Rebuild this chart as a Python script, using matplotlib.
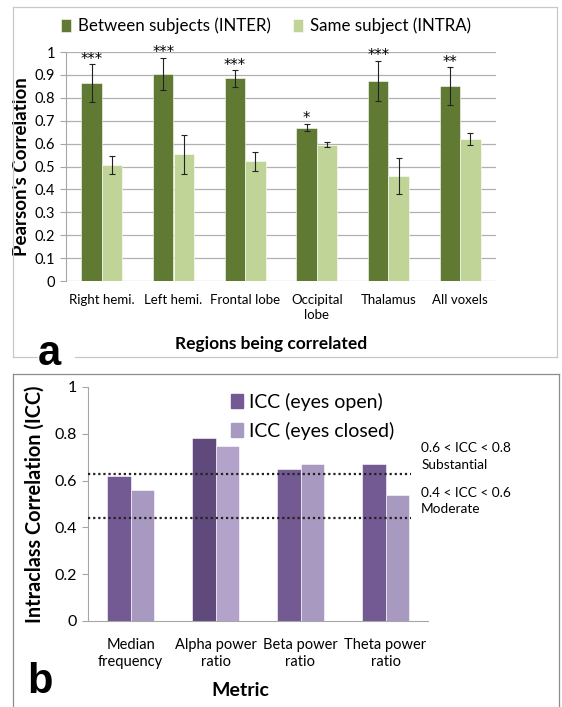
import numpy as np
import matplotlib
matplotlib.use('Agg')
import matplotlib.pyplot as plt
from matplotlib.lines import Line2D

plt.rcParams['font.family'] = ['Lato', 'DejaVu Sans']

# panel a data
regions = ['Right hemi.', 'Left hemi.', 'Frontal lobe', 'Occipital\nlobe', 'Thalamus', 'All voxels']
inter = [0.865, 0.905, 0.885, 0.670, 0.875, 0.850]
inter_err = [0.082, 0.070, 0.037, 0.017, 0.087, 0.083]
intra = [0.507, 0.553, 0.523, 0.595, 0.458, 0.621]
intra_err = [0.038, 0.086, 0.041, 0.011, 0.080, 0.025]
stars = ['***', '***', '***', '*', '***', '**']

# panel b data
metrics = ['Median\nfrequency', 'Alpha power\nratio', 'Beta power\nratio', 'Theta power\nratio']
icc_open = [0.62, 0.78, 0.65, 0.67]
icc_closed = [0.56, 0.75, 0.67, 0.54]
ref_lines = [0.63, 0.44]

W, H = 562, 707
fig = plt.figure(figsize=(W / 100, H / 100), dpi=100)

def fx(px):
    return px / W

def fy(py):
    return 1 - py / H

dark_g = '#617a33'
light_g = '#c0d497'
open_c = ['#735a92', '#5f4a7b', '#735a92', '#735a92']
closed_c = ['#a899c1', '#b3a3cb', '#a899c1', '#a899c1']
grey = '#a6a6a6'

# ---------- panel a ----------
ax1 = fig.add_axes([fx(66), fy(281), fx(496) - fx(66), fy(52) - fy(281)])
x = np.arange(len(regions))
bw = 0.285
ax1.bar(x - bw / 2, inter, bw, color=dark_g, edgecolor='white', linewidth=0.4, zorder=3)
ax1.bar(x + bw / 2, intra, bw, color=light_g, edgecolor='white', linewidth=0.4, zorder=3)
ax1.errorbar(x - bw / 2, inter, yerr=inter_err, fmt='none', ecolor='#222222', elinewidth=0.8,
             capsize=2, capthick=0.8, zorder=4)
ax1.errorbar(x + bw / 2, intra, yerr=intra_err, fmt='none', ecolor='#222222', elinewidth=0.8,
             capsize=2, capthick=0.8, zorder=4)
for xi, v, e, s in zip(x, inter, inter_err, stars):
    ax1.text(xi - bw / 2, v + e - 0.012, s, ha='center', va='bottom', fontsize=10.5,
             family=['DejaVu Sans'])
ax1.set_xlim(-0.5, len(regions) - 0.5)
ax1.set_ylim(0, 1)
ax1.set_yticks(np.arange(0, 1.01, 0.1))
ax1.set_yticklabels(['0'] + ['%.1f' % v for v in np.arange(0.1, 0.95, 0.1)] + ['1'])
ax1.yaxis.grid(True, color='#b0b0b0', linewidth=0.9, zorder=0)
ax1.set_axisbelow(True)
for sp in ['top', 'right', 'bottom']:
    ax1.spines[sp].set_visible(False)
ax1.spines['left'].set_color(grey)
ax1.tick_params(axis='y', length=4, color=grey, labelsize=10.5, pad=4)
ax1.tick_params(axis='x', length=0, labelsize=9.5, pad=9)
ax1.set_xticks(x)
ax1.set_xticklabels(regions, linespacing=1.3)
ax1.set_ylabel("Pearson's Correlation", fontsize=13.5, fontweight='bold', labelpad=3)
fig.text(fx(271), fy(344), 'Regions being correlated', ha='center', va='center',
         fontsize=12.5, fontweight='bold')
fig.legend(handles=ax1.containers[:2], labels=['Between subjects (INTER)', 'Same subject (INTRA)'],
           loc='center', bbox_to_anchor=(fx(266), fy(26)), ncol=2, frameon=False,
           fontsize=12.2, handlelength=0.6, handleheight=0.8, handletextpad=0.4, columnspacing=1.3)

# ---------- panel b ----------
ax2 = fig.add_axes([fx(88), fy(621), fx(428) - fx(88), fy(387) - fy(621)])
x2 = np.arange(len(metrics))
bw2 = 0.28
ax2.bar(x2 - bw2 / 2, icc_open, bw2, color=open_c, edgecolor='white', linewidth=0.4, zorder=3)
ax2.bar(x2 + bw2 / 2, icc_closed, bw2, color=closed_c, edgecolor='white', linewidth=0.4, zorder=3)
for r in ref_lines:
    ax2.plot([-0.5, 3.3], [r, r], linestyle=(0, (1, 1.3)), color='#222222', linewidth=1.6,
             zorder=4, clip_on=False)
ax2.set_xlim(-0.5, len(metrics) - 0.5)
ax2.set_ylim(0, 1)
ax2.set_yticks(np.arange(0, 1.01, 0.2))
ax2.set_yticklabels(['0', '0.2', '0.4', '0.6', '0.8', '1'])
for sp in ['top', 'right']:
    ax2.spines[sp].set_visible(False)
ax2.spines['left'].set_color(grey)
ax2.spines['bottom'].set_color(grey)
ax2.tick_params(axis='y', length=4, color=grey, labelsize=11.5, pad=4)
ax2.tick_params(axis='x', length=0, labelsize=10.5, pad=12)
ax2.set_xticks(x2)
ax2.set_xticklabels(metrics, linespacing=1.3)
ax2.set_ylabel('Intraclass Correlation (ICC)', fontsize=14.3, fontweight='bold', labelpad=7)
ax2.text(3.42, 0.703, '0.6 < ICC < 0.8\nSubstantial', ha='left', va='center', fontsize=9.8,
         linespacing=1.45, clip_on=False)
ax2.text(3.42, 0.513, '0.4 < ICC < 0.6\nModerate', ha='left', va='center', fontsize=9.8,
         linespacing=1.45, clip_on=False)
leg_handles = [plt.Rectangle((0, 0), 1, 1, color=open_c[0]),
               plt.Rectangle((0, 0), 1, 1, color=closed_c[0])]
fig.legend(handles=leg_handles, labels=['ICC (eyes open)', 'ICC (eyes closed)'],
           loc='upper left', bbox_to_anchor=(fx(231), fy(393)), frameon=False,
           borderpad=0, borderaxespad=0,
           fontsize=14, handlelength=0.6, handleheight=0.75, handletextpad=0.35, labelspacing=0.55)
fig.text(fx(240), fy(691), 'Metric', ha='center', va='center', fontsize=14, fontweight='bold')

# ---------- panel frames and letters ----------
def seg(x0, y0, x1, y1, c):
    fig.add_artist(Line2D([fx(x0), fx(x1)], [fy(y0), fy(y1)], color=c, linewidth=0.9))

ca = '#c8c8c8'
seg(13, 7, 557, 7, ca)
seg(13, 7, 13, 357, ca)
seg(557, 7, 557, 357, ca)
seg(13, 357, 37, 357, ca)
seg(75, 357, 557, 357, ca)
cb = '#8c8c8c'
seg(13, 374, 559, 374, cb)
seg(13, 374, 13, 707, cb)
seg(559, 374, 559, 707, cb)

fig.text(fx(38), fy(365), 'a', ha='left', va='baseline', fontsize=30, fontweight='bold',
         family=['Liberation Sans', 'DejaVu Sans'])
fig.text(fx(27), fy(693), 'b', ha='left', va='baseline', fontsize=30, fontweight='bold',
         family=['Liberation Sans', 'DejaVu Sans'])

fig.savefig('out.png', dpi=100)
